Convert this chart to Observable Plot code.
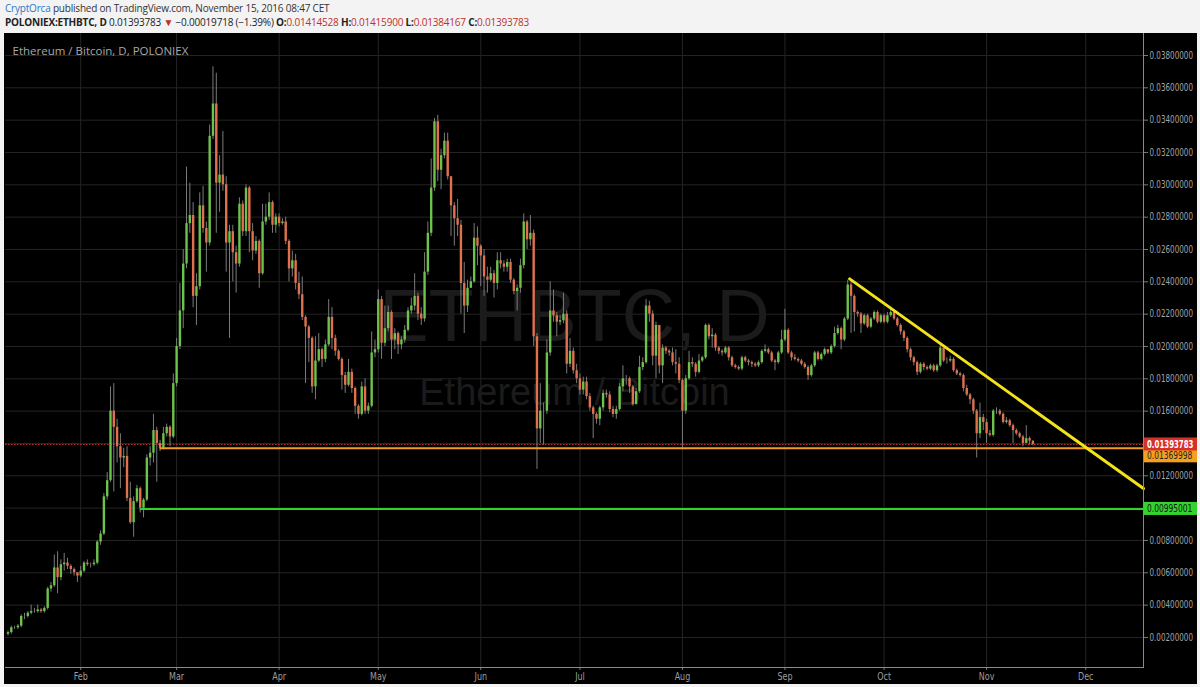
<!DOCTYPE html>
<html><head><meta charset="utf-8">
<script src="https://cdn.jsdelivr.net/npm/d3@7"></script>
<script src="https://cdn.jsdelivr.net/npm/@observablehq/plot@0.6"></script>
<style>
html,body{margin:0;padding:0;}
body{width:1200px;height:687px;overflow:hidden;background:#f3f3f3;font-family:"Open Sans",sans-serif;position:relative;}
#hdr1{position:absolute;left:5px;top:1px;font-size:10px;color:#333;white-space:nowrap;letter-spacing:-0.2px;}
#hdr2{position:absolute;left:5px;top:15px;font-size:10px;color:#222;white-space:nowrap;letter-spacing:-0.2px;}
#hdr1 .user{color:#2f78c4;}
#hdr2 b{font-weight:700;}
#hdr2 .r{color:#c0302b;}
#chart{position:absolute;left:4px;top:33px;}
</style></head>
<body>
<div id="hdr1"><span class="user">CryptOrca</span> published on TradingView.com, November 15, 2016 08:47 CET</div>
<div id="hdr2"></div>
<div id="chart"></div>
<script>
// ---- data ----
const symbol = "POLONIEX:ETHBTC, D";
const legendText = "Ethereum / Bitcoin, D, POLONIEX";
const watermark1 = "ETHBTC, D";
const watermark2 = "Ethereum / Bitcoin";
const firstDay = "2016-01-10";
const firstOpen = 0.0022;
const lastQuote = {open:0.01414528, high:0.01415900, low:0.01384167, close:0.01393783, change:-0.00019718, pct:-1.39};

const janClose=[.0023,.0026,.0026,.0027,.0033,.0033,.0035,.0036,.0036,.0037,.0036,.0038,.0050,.0052,.0063,.0057,.0065,.0066,.0064,.0062,.0060,.0058];
const janHigh =[.0024,.0027,.0027,.0028,.0034,.0035,.0036,.0040,.0038,.0040,.0038,.0039,.0051,.0054,.0071,.0073,.0068,.0072,.0069,.0065,.0063,.0060];
const janLow  =[.0021,.0022,.0025,.0025,.0026,.0031,.0032,.0034,.0035,.0035,.0035,.0035,.0037,.0048,.0051,.0047,.0055,.0061,.0062,.0059,.0058,.0054];

const febClose=[.0061,.0066,.0065,.0065,.0066,.0079,.0084,.0107,.0117,.0160,.0150,.0138,.0131,.0132,.0106,.0091,.0104,.0112,.0100,.0105,.0131,.0134,.0148,.0140,.0137,.0146,.0150,.0144,.0177];
const febHigh =[.0064,.0067,.0068,.0066,.0068,.0080,.0086,.0109,.0122,.0175,.0177,.0155,.0146,.0137,.0138,.0116,.0107,.0114,.0113,.0106,.0133,.0138,.0158,.0150,.0142,.0150,.0152,.0151,.0183];
const febLow  =[.0057,.0060,.0064,.0063,.0064,.0065,.0077,.0083,.0105,.0116,.0110,.0128,.0112,.0125,.0104,.0090,.0082,.0103,.0097,.0094,.0104,.0126,.0128,.0116,.0135,.0136,.0144,.0138,.0143];

const marClose=[.0200,.0222,.0251,.0276,.0281,.0231,.0237,.0287,.0273,.0264,.0330,.0350,.0301,.0306,.0300,.0264,.0271,.0258,.0251,.0288,.0271,.0298,.0271,.0259,.0265,.0245,.0277,.0280,.0289,.0275,.0280];
const marHigh =[.0205,.0239,.0260,.0311,.0301,.0289,.0245,.0295,.0299,.0277,.0337,.0373,.0369,.0318,.0333,.0305,.0275,.0275,.0262,.0292,.0290,.0300,.0299,.0276,.0268,.0266,.0288,.0288,.0295,.0290,.0282];
const marLow  =[.0175,.0198,.0211,.0248,.0270,.0224,.0213,.0235,.0270,.0246,.0262,.0328,.0270,.0283,.0296,.0246,.0205,.0240,.0233,.0249,.0268,.0268,.0258,.0253,.0257,.0236,.0244,.0275,.0278,.0270,.0270];

const aprClose=[.0276,.0277,.0265,.0248,.0253,.0239,.0232,.0218,.0212,.0205,.0175,.0191,.0198,.0192,.0201,.0218,.0205,.0197,.0192,.0182,.0176,.0184,.0174,.0163,.0158,.0175,.0160,.0163,.0196,.0198];
const aprHigh =[.0282,.0279,.0280,.0266,.0259,.0257,.0246,.0243,.0219,.0213,.0206,.0206,.0208,.0199,.0204,.0229,.0224,.0207,.0198,.0193,.0184,.0192,.0186,.0175,.0164,.0178,.0180,.0165,.0209,.0204];
const aprLow  =[.0274,.0275,.0263,.0240,.0243,.0235,.0229,.0216,.0177,.0190,.0171,.0167,.0190,.0187,.0190,.0200,.0198,.0194,.0191,.0173,.0171,.0175,.0171,.0158,.0155,.0157,.0158,.0158,.0162,.0193];

const mayClose=[.0229,.0202,.0211,.0221,.0204,.0208,.0201,.0204,.0210,.0222,.0225,.0231,.0220,.0217,.0246,.0270,.0298,.0339,.0309,.0318,.0327,.0305,.0287,.0279,.0275,.0239,.0225,.0236,.0240,.0267,.0262];
const mayHigh =[.0235,.0231,.0225,.0225,.0222,.0211,.0209,.0206,.0213,.0224,.0230,.0245,.0233,.0224,.0258,.0277,.0316,.0341,.0343,.0322,.0332,.0332,.0291,.0289,.0291,.0278,.0252,.0241,.0243,.0276,.0274];
const mayLow  =[.0196,.0192,.0200,.0209,.0192,.0198,.0195,.0198,.0202,.0209,.0220,.0222,.0216,.0213,.0215,.0244,.0268,.0296,.0302,.0297,.0316,.0303,.0268,.0262,.0268,.0220,.0208,.0221,.0238,.0239,.0250];

const junClose=[.0256,.0243,.0241,.0245,.0239,.0253,.0251,.0249,.0252,.0241,.0234,.0236,.0250,.0277,.0266,.0270,.0206,.0149,.0160,.0160,.0196,.0222,.0219,.0215,.0216,.0220,.0189,.0197,.0185,.0180];
const junHigh =[.0263,.0260,.0249,.0249,.0247,.0258,.0258,.0253,.0254,.0254,.0242,.0238,.0254,.0282,.0278,.0281,.0272,.0208,.0177,.0165,.0204,.0240,.0235,.0221,.0219,.0233,.0222,.0205,.0199,.0189];
const junLow  =[.0237,.0231,.0233,.0240,.0230,.0235,.0248,.0246,.0246,.0239,.0232,.0222,.0233,.0248,.0260,.0262,.0200,.0124,.0140,.0139,.0158,.0194,.0215,.0206,.0213,.0214,.0183,.0187,.0183,.0177];

const julClose=[.0173,.0178,.0169,.0162,.0158,.0155,.0162,.0171,.0170,.0161,.0158,.0161,.0175,.0180,.0180,.0175,.0164,.0172,.0187,.0190,.0225,.0220,.0194,.0213,.0188,.0199,.0197,.0196,.0190,.0189,.0179];
const julHigh =[.0183,.0181,.0181,.0171,.0163,.0159,.0163,.0173,.0173,.0172,.0163,.0163,.0177,.0188,.0182,.0181,.0176,.0174,.0194,.0193,.0229,.0228,.0222,.0215,.0213,.0201,.0200,.0198,.0199,.0198,.0193];
const julLow  =[.0170,.0170,.0167,.0160,.0143,.0152,.0151,.0160,.0168,.0159,.0156,.0155,.0160,.0172,.0176,.0171,.0163,.0164,.0171,.0185,.0189,.0215,.0188,.0180,.0183,.0177,.0195,.0194,.0188,.0183,.0177];

const augClose=[.0160,.0180,.0190,.0189,.0184,.0191,.0193,.0213,.0206,.0207,.0199,.0197,.0196,.0199,.0193,.0188,.0187,.0186,.0193,.0191,.0190,.0189,.0188,.0190,.0197,.0198,.0196,.0191,.0190,.0196,.0204];
const augHigh =[.0180,.0182,.0197,.0193,.0190,.0195,.0194,.0214,.0214,.0211,.0208,.0200,.0198,.0200,.0200,.0194,.0189,.0188,.0194,.0194,.0192,.0191,.0190,.0191,.0198,.0201,.0199,.0197,.0192,.0197,.0210];
const augLow  =[.0136,.0158,.0179,.0187,.0181,.0183,.0190,.0192,.0204,.0199,.0197,.0195,.0194,.0195,.0191,.0187,.0186,.0185,.0185,.0190,.0188,.0187,.0187,.0187,.0189,.0196,.0195,.0190,.0185,.0189,.0195];

const sepClose=[.0210,.0196,.0193,.0192,.0191,.0189,.0187,.0182,.0188,.0196,.0192,.0195,.0198,.0196,.0200,.0208,.0211,.0204,.0217,.0238,.0231,.0221,.0220,.0214,.0219,.0212,.0217,.0221,.0215,.0219];
const sepHigh =[.0223,.0211,.0197,.0195,.0193,.0192,.0190,.0188,.0189,.0197,.0197,.0196,.0199,.0198,.0201,.0212,.0213,.0212,.0218,.0241,.0240,.0232,.0222,.0221,.0220,.0220,.0218,.0222,.0222,.0220];
const sepLow  =[.0203,.0195,.0191,.0191,.0190,.0188,.0186,.0179,.0181,.0187,.0191,.0191,.0194,.0195,.0195,.0199,.0207,.0198,.0203,.0216,.0208,.0209,.0218,.0208,.0213,.0211,.0211,.0216,.0214,.0214];

const octClose=[.0215,.0219,.0221,.0217,.0213,.0209,.0205,.0198,.0193,.0190,.0184,.0189,.0187,.0186,.0188,.0185,.0188,.0199,.0191,.0191,.0192,.0185,.0183,.0182,.0174,.0170,.0167,.0160,.0146,.0156,.0153];
const octHigh =[.0220,.0221,.0223,.0222,.0218,.0214,.0210,.0206,.0199,.0194,.0191,.0190,.0190,.0188,.0189,.0189,.0189,.0201,.0199,.0193,.0194,.0193,.0186,.0184,.0183,.0176,.0171,.0168,.0161,.0165,.0158];
const octLow  =[.0214,.0214,.0218,.0216,.0212,.0207,.0203,.0196,.0191,.0188,.0182,.0183,.0185,.0185,.0185,.0184,.0184,.0187,.0190,.0189,.0190,.0184,.0182,.0181,.0172,.0169,.0164,.0158,.0131,.0143,.0148];

const novClose=[.0146,.0145,.0160,.0160,.0158,.0153,.0154,.0151,.0148,.0146,.0144,.0140,.0143,.01414528,.01393783];
const novHigh =[.0155,.0148,.0161,.0162,.0161,.0159,.0156,.0155,.0152,.0149,.0147,.0145,.0151,.0144,.01415900];
const novLow  =[.0140,.0144,.0144,.0158,.0157,.0152,.0152,.0150,.0140,.0145,.0143,.0138,.0140,.0139,.01384167];

// levels drawn on the chart
const lastPrice = 0.01393783;
const supportLevel = 0.01369998, supportFrom = "2016-02-25";
const lowerLevel = 0.00995001, lowerFrom = "2016-02-19";
const trendStart = {date:"2016-09-20T14:00Z", value:0.02418};
const trendEnd   = {date:"2016-12-18T11:00Z", value:0.01121};

// ticks (0.014 and 0.010 labels are hidden behind the price tags in the reference)
const priceGrid = [0.002,0.004,0.006,0.008,0.010,0.012,0.014,0.016,0.018,0.020,0.022,0.024,0.026,0.028,0.030,0.032,0.034,0.036,0.038];
const priceLabels = [0.002,0.004,0.006,0.008,0.012,0.016,0.018,0.020,0.022,0.024,0.026,0.028,0.030,0.032,0.034,0.036,0.038];
const monthTicks = ["2016-02-01","2016-03-01","2016-04-01","2016-05-01","2016-06-01","2016-07-01","2016-08-01","2016-09-01","2016-10-01","2016-11-01","2016-12-01"];
const monthLabels = ["Feb","Mar","Apr","May","Jun","Jul","Aug","Sep","Oct","Nov","Dec"];

// ---- build candles ----
const closes=[].concat(janClose,febClose,marClose,aprClose,mayClose,junClose,julClose,augClose,sepClose,octClose,novClose);
const highs =[].concat(janHigh,febHigh,marHigh,aprHigh,mayHigh,junHigh,julHigh,augHigh,sepHigh,octHigh,novHigh);
const lows  =[].concat(janLow,febLow,marLow,aprLow,mayLow,junLow,julLow,augLow,sepLow,octLow,novLow);
const DAY=86400000;
const t0=new Date(firstDay+"T00:00Z").getTime();
const candles=closes.map((c,i)=>{
  const open = i===0 ? firstOpen : closes[i-1];
  return {date:new Date(t0+i*DAY), open, close:c, high:Math.max(highs[i],open,c), low:Math.min(lows[i],open,c)};
});

// ---- header ----
const fmt8=d=>d.toFixed(8);
document.getElementById("hdr2").innerHTML =
  `<b>${symbol}</b> ${fmt8(lastQuote.close)} <span class="r">&#9660;</span> &minus;${fmt8(-lastQuote.change)} (&minus;${(-lastQuote.pct).toFixed(2)}%) `+
  `<b>O:</b><span class="r">${fmt8(lastQuote.open)}</span> <b>H:</b><span class="r">${fmt8(lastQuote.high)}</span> `+
  `<b>L:</b><span class="r">${fmt8(lastQuote.low)}</span> <b>C:</b><span class="r">${fmt8(lastQuote.close)}</span>`;

// ---- plot ----
const UP="#6cc24a", DOWN="#e0714f", WICK="#7b7b7b", GRID="#242424";
const W=1193, H=651;
const xDomain=[new Date(t0-0.756*DAY), new Date(t0+343.46*DAY)];
const yDomain=[0.000142, 0.03936];
const mt = monthTicks.map(s=>new Date(s+"T00:00Z"));
const monthName = new Map(mt.map((d,i)=>[+d, monthLabels[i]]));

const plot = Plot.plot({
  width:W, height:H, marginLeft:1, marginRight:54, marginTop:0, marginBottom:17,
  style:{background:"#000", color:"#9d9d9d", fontSize:"10px", fontFamily:"DejaVu Sans, sans-serif", overflow:"visible"},
  x:{type:"utc", domain:xDomain},
  y:{domain:yDomain},
  marks:[
    Plot.ruleX(mt,{stroke:GRID, strokeWidth:1}),
    Plot.ruleY(priceGrid,{stroke:GRID, strokeWidth:1}),
    Plot.text([watermark1],{frameAnchor:"middle", dy:-33, fontSize:74, fill:"#1b1b1b", fontFamily:"Liberation Sans, Arial, sans-serif"}),
    Plot.text([watermark2],{frameAnchor:"middle", dy:42, fontSize:38, fill:"#1b1b1b", fontFamily:"Liberation Sans, Arial, sans-serif"}),
    Plot.ruleY([lastPrice],{stroke:"#c8302c", strokeWidth:1, strokeDasharray:"1.5,1.5"}),
    Plot.ruleX(candles,{x:"date", y1:"low", y2:"high", stroke:WICK, strokeWidth:1}),
    Plot.ruleX(candles,{x:"date", y1:"open", y2:"close", stroke:d=>d.close>=d.open?UP:DOWN, strokeWidth:2.4}),
    Plot.ruleY([supportLevel],{x1:new Date(supportFrom+"T00:00Z"), x2:xDomain[1], stroke:"#f39c1f", strokeWidth:2}),
    Plot.ruleY([lowerLevel],{x1:new Date(lowerFrom+"T00:00Z"), x2:xDomain[1], stroke:"#33d12f", strokeWidth:2}),
    Plot.line([trendStart,trendEnd],{x:d=>new Date(d.date), y:"value", stroke:"#f2e21c", strokeWidth:3}),
    Plot.axisY(priceGrid,{anchor:"right", tickFormat:null, text:null, tickSize:4, stroke:"#7a7a7a"}),
    Plot.axisY(priceLabels,{anchor:"right", tickFormat:fmt8, tickSize:0, tickPadding:6, fill:"#a3a3a3", fontSize:10}),
    Plot.axisX(mt,{tickFormat:d=>monthName.get(+d), tickSize:3, tickPadding:2, stroke:"#7a7a7a", fill:"#9d9d9d", fontSize:10, fontFamily:"DejaVu Sans, sans-serif"}),
    Plot.frame({anchor:"right", stroke:"#8a8a8a"}),
    Plot.frame({anchor:"bottom", stroke:"#8a8a8a"}),
    Plot.text([legendText],{frameAnchor:"top-left", dx:7, dy:13, fontSize:11.5, fill:"#a8a8a8", textAnchor:"start", fontFamily:"Open Sans, sans-serif"})
  ]
});
document.getElementById("chart").appendChild(plot);

// condense axis label glyphs horizontally, as in the reference
function condense(t, sx){
  const tr = t.getAttribute("transform");
  if (tr) { t.setAttribute("transform", tr+` scale(${sx},1)`); }
  else {
    const x=+(t.getAttribute("x")||0), y=+(t.getAttribute("y")||0);
    t.removeAttribute("x"); t.removeAttribute("y");
    t.setAttribute("transform", `translate(${x},${y}) scale(${sx},1)`);
  }
}
plot.querySelectorAll('g[aria-label="y-axis tick label"] text').forEach(t=>condense(t,0.72));
plot.querySelectorAll('g[aria-label="x-axis tick label"] text').forEach(t=>condense(t,0.8));

// price tags on the right axis (positioned with the plot's own y scale)
const ys = plot.scale("y");
const svg = d3.select(plot);
const boxX = W-54+1, boxW = 53;
const tags = [
  {value:lowerLevel, shift:0, fill:"#34d42f", text:"#111", weight:400},
  {value:supportLevel, shift:8, fill:"#f4a01e", text:"#222", weight:400},
  {value:lastPrice, shift:0, fill:"#d6302a", text:"#fff", weight:700}
];
for (const t of tags){
  const cy = ys.apply(t.value)+t.shift;
  svg.append("rect").attr("x",boxX).attr("y",cy-6.5).attr("width",boxW).attr("height",13).attr("fill",t.fill);
  svg.append("text").attr("text-anchor","start")
     .attr("transform",`translate(${boxX+3},${cy+3.6}) scale(${t.weight>500?0.7:0.75},1)`)
     .attr("fill",t.text).attr("font-size",10).attr("font-weight",t.weight)
     .attr("font-family","DejaVu Sans, sans-serif").text(fmt8(t.value));
}
</script>
</body></html>
